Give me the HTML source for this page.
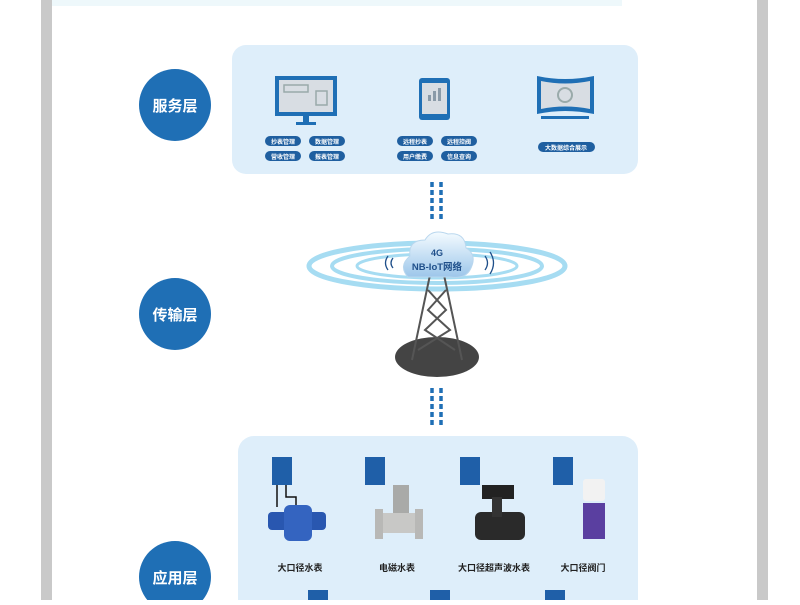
<!DOCTYPE html>
<html><head><meta charset="utf-8"><style>
body{margin:0;width:800px;height:600px;overflow:hidden;background:#fff;font-family:"Liberation Sans","Noto Sans CJK SC",sans-serif}
</style></head><body>
<svg width="800" height="600" xmlns="http://www.w3.org/2000/svg" font-family="Liberation Sans, Noto Sans CJK SC, sans-serif">
<defs>
<linearGradient id="cl" x1="0" y1="0" x2="0" y2="1"><stop offset="0" stop-color="#f4fbff"/><stop offset="1" stop-color="#9cc6ea"/></linearGradient>
<radialGradient id="rg"><stop offset="0.6" stop-color="#fff" stop-opacity="0"/><stop offset="0.85" stop-color="#8fd0f0"/><stop offset="1" stop-color="#fff" stop-opacity="0"/></radialGradient>
</defs>
<rect x="41" y="0" width="11" height="600" fill="#c9c9c9"/>
<rect x="757" y="0" width="11" height="600" fill="#c9c9c9"/>
<rect x="52" y="0" width="570" height="6" fill="#eef8fb"/>
<!-- top panel -->
<rect x="232" y="45" width="406" height="129" rx="14" fill="#deeefa"/>
<!-- monitor -->
<rect x="275" y="76" width="62" height="40" fill="#1f6fb5"/>
<rect x="279" y="80" width="54" height="32" fill="#d8dde3"/>
<rect x="284" y="85" width="24" height="7" fill="none" stroke="#9aa" stroke-width="1.5"/>
<rect x="316" y="91" width="11" height="14" fill="none" stroke="#9aa" stroke-width="1.5"/>
<rect x="303" y="116" width="6" height="6" fill="#1f6fb5"/><rect x="296" y="122" width="20" height="3" fill="#1f6fb5"/>
<!-- tablet -->
<rect x="419" y="78" width="31" height="42" rx="3" fill="#1f6fb5"/>
<rect x="422" y="83" width="25" height="31" fill="#d8dde3"/>
<rect x="428" y="95" width="3" height="6" fill="#8a9aa8"/><rect x="433" y="91" width="3" height="10" fill="#8a9aa8"/><rect x="438" y="88" width="3" height="13" fill="#8a9aa8"/>
<!-- curved screen -->
<path d="M537 76 Q565 82 594 76 L594 114 Q565 108 537 114 Z" fill="#1f6fb5"/>
<path d="M541 81 Q565 86 590 81 L590 109 Q565 104 541 109 Z" fill="#d8dde3"/>
<circle cx="565" cy="95" r="7" fill="none" stroke="#9aa" stroke-width="2"/>
<rect x="541" y="116" width="48" height="3" fill="#1f6fb5"/>
<g fill="#1f5fa0" font-size="6" font-weight="bold" text-anchor="middle">
<rect x="265" y="136" width="36" height="10" rx="5"/><rect x="309" y="136" width="36" height="10" rx="5"/>
<rect x="265" y="151" width="36" height="10" rx="5"/><rect x="309" y="151" width="36" height="10" rx="5"/>
<rect x="397" y="136" width="36" height="10" rx="5"/><rect x="441" y="136" width="36" height="10" rx="5"/>
<rect x="397" y="151" width="36" height="10" rx="5"/><rect x="441" y="151" width="36" height="10" rx="5"/>
<rect x="538" y="142" width="57" height="10" rx="5"/>
</g>
<g fill="#fff" font-size="6" font-weight="bold" text-anchor="middle">
<text x="283" y="144">抄表管理</text><text x="327" y="144">数据管理</text>
<text x="283" y="159">营收管理</text><text x="327" y="159">报表管理</text>
<text x="415" y="144">远程抄表</text><text x="459" y="144">远程控阀</text>
<text x="415" y="159">用户缴费</text><text x="459" y="159">信息查询</text>
<text x="566" y="150">大数据综合展示</text>
</g>
<!-- circles -->
<g fill="#1f6fb5"><circle cx="175" cy="105" r="36"/><circle cx="175" cy="314" r="36"/><circle cx="175" cy="577" r="36"/></g>
<g fill="#fff" font-size="15" font-weight="bold" text-anchor="middle">
<text x="175" y="111">服务层</text><text x="175" y="320">传输层</text><text x="175" y="583">应用层</text></g>
<!-- dashes -->
<g stroke="#1f6fb5" stroke-width="3.5" stroke-dasharray="5,3">
<line x1="432" y1="182" x2="432" y2="222"/><line x1="441" y1="182" x2="441" y2="222"/>
<line x1="432" y1="388" x2="432" y2="426"/><line x1="441" y1="388" x2="441" y2="426"/></g>
<!-- rings -->
<g fill="none" stroke="#a6dcf2">
<ellipse cx="437" cy="266" rx="128" ry="23" stroke-width="5"/>
<ellipse cx="437" cy="266" rx="105" ry="17" stroke-width="4"/>
<ellipse cx="437" cy="266" rx="80" ry="12" stroke-width="3"/></g>
<!-- tower -->
<ellipse cx="437" cy="357" rx="42" ry="20" fill="#444"/>
<g stroke="#555" stroke-width="2" fill="none">
<path d="M430 275 L412 360 M444 275 L462 360 M428 290 L446 310 L425 330 L455 350 M446 290 L428 310 L450 330 L418 350"/></g>
<!-- cloud -->
<path d="M408 277 Q398 266 410 256 Q408 240 425 240 Q432 228 448 234 Q465 232 466 248 Q478 255 470 270 Q465 279 450 277 Z" fill="url(#cl)" stroke="#b9d7ee"/>
<text x="437" y="256" font-size="9" fill="#1f4f8a" font-weight="bold" text-anchor="middle">4G</text>
<text x="437" y="270" font-size="9.5" fill="#1f4f8a" font-weight="bold" text-anchor="middle">NB-IoT网络</text>
<g stroke="#1f4f8a" stroke-width="1.3" fill="none">
<path d="M388 256 Q383 263 388 270"/><path d="M393 258 Q389 263 393 268"/>
<path d="M485 256 Q490 263 485 270"/><path d="M490 252 Q497 263 490 274"/></g>
<!-- bottom panel -->
<rect x="238" y="436" width="400" height="180" rx="16" fill="#deeefa"/>
<g>
<g transform="translate(272,457)"><rect width="20" height="28" fill="#1f5fa8"/><path d="M5 28 V50 M14 28 V40 H24 V55" stroke="#111" stroke-width="1.5" fill="none"/><rect x="-4" y="55" width="58" height="18" rx="4" fill="#2957b0"/><rect x="12" y="48" width="28" height="36" rx="6" fill="#3464c0"/></g>
<g transform="translate(365,457)"><rect width="20" height="28" fill="#1f5fa8"/><rect x="28" y="28" width="16" height="30" fill="#a9aaa8"/><rect x="15" y="56" width="40" height="20" fill="#c8c8c6"/><rect x="10" y="52" width="8" height="30" fill="#b8b8b6"/><rect x="50" y="52" width="8" height="30" fill="#b8b8b6"/></g>
<g transform="translate(460,457)"><rect width="20" height="28" fill="#1f5fa8"/><rect x="22" y="28" width="32" height="14" fill="#222"/><rect x="15" y="55" width="50" height="28" rx="6" fill="#2a2a2a"/><rect x="32" y="40" width="10" height="20" fill="#333"/></g>
<g transform="translate(553,457)"><rect width="20" height="28" fill="#1f5fa8"/><rect x="30" y="22" width="22" height="22" rx="3" fill="#f2f2f2"/><rect x="30" y="46" width="22" height="36" fill="#5a3fa0"/></g>
</g>
<g font-size="9" font-weight="bold" fill="#222" text-anchor="middle">
<text x="300" y="571">大口径水表</text><text x="397" y="571">电磁水表</text><text x="494" y="571">大口径超声波水表</text><text x="583" y="571">大口径阀门</text></g>
<g fill="#1f5fa8"><rect x="308" y="590" width="20" height="12"/><rect x="430" y="590" width="20" height="12"/><rect x="545" y="590" width="20" height="12"/></g>
</svg>
</body></html>
